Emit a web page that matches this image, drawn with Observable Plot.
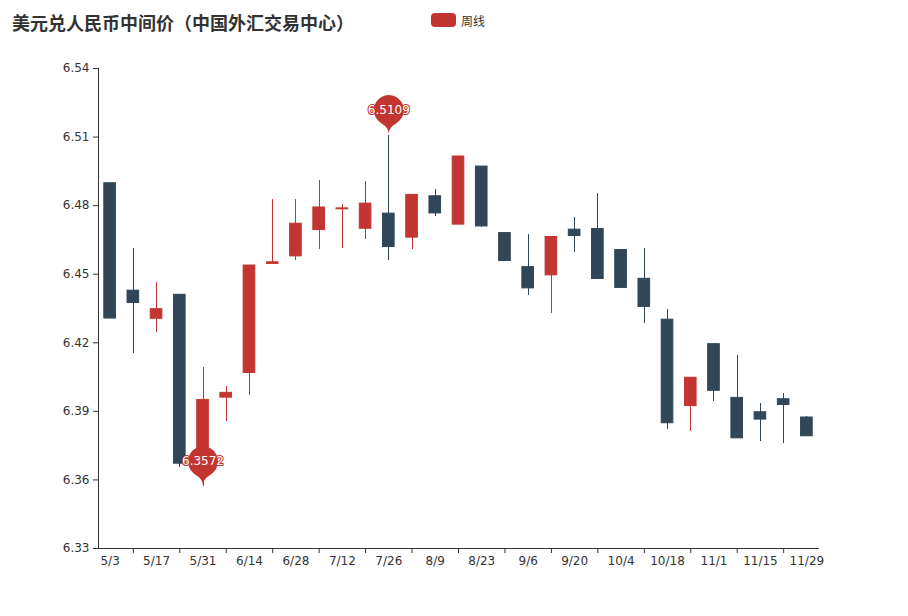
<!DOCTYPE html>
<html>
<head>
<meta charset="utf-8">
<script src="https://cdn.jsdelivr.net/npm/d3@7"></script>
<script src="https://cdn.jsdelivr.net/npm/@observablehq/plot@0.6"></script>
<style>
  body { margin: 0; background: #fff; }
  #wrap { position: relative; width: 908px; height: 616px; overflow: hidden; }
  #title { position: absolute; left: 12px; top: 9px; font: bold 18px "Noto Sans CJK SC", sans-serif; color: #333; white-space: nowrap; }
  #legend { position: absolute; left: 431px; top: 12px; font: 12px "Noto Sans CJK SC", sans-serif; color: #333; display: flex; align-items: center; height: 16px; }
  #legend .sw { display: inline-block; width: 25px; height: 14px; border-radius: 4px; background: #c23531; margin-right: 5px; }
  #chart { position: absolute; left: 0; top: 0; }
</style>
</head>
<body>
<div id="wrap">
  <div id="chart"></div>
  <div id="title">美元兑人民币中间价（中国外汇交易中心）</div>
  <div id="legend"><span class="sw"></span>周线</div>
</div>
<script>
const dates = ["5/3","5/10","5/17","5/24","5/31","6/7","6/14","6/21","6/28","7/5","7/12","7/19","7/26","8/2","8/9","8/16","8/23","8/30","9/6","9/13","9/20","9/27","10/4","10/11","10/18","10/25","11/1","11/8","11/15","11/22","11/29"];
const openV  = [6.4898,6.4428,6.4305,6.4410,6.3668,6.3960,6.4068,6.4545,6.4578,6.4693,6.4784,6.4699,6.4765,6.4660,6.4841,6.4717,6.4971,6.4680,6.4531,6.4495,6.4695,6.4698,6.4606,6.4480,6.4301,6.3923,6.4194,6.3959,6.3896,6.3953,6.3873];
const closeV = [6.4306,6.4374,6.4347,6.3671,6.3950,6.3981,6.4538,6.4552,6.4721,6.4792,6.4788,6.4809,6.4619,6.4847,6.4766,6.5015,6.4709,6.4558,6.4438,6.4663,6.4667,6.4479,6.4440,6.4357,6.3848,6.4047,6.3990,6.3782,6.3864,6.3928,6.3791];
const highV  = [6.4898,6.4613,6.4463,6.4410,6.4090,6.4008,6.4538,6.4825,6.4826,6.4909,6.4806,6.4905,6.5109,6.4847,6.4870,6.5015,6.4971,6.4683,6.4673,6.4663,6.4749,6.4854,6.4606,6.4612,6.4344,6.4047,6.4194,6.4144,6.3934,6.3980,6.3877];
const lowV   = [6.4306,6.4153,6.4245,6.3654,6.3572,6.3855,6.3969,6.4545,6.4562,6.4607,6.4613,6.4650,6.4560,6.4608,6.4753,6.4717,6.4705,6.4558,6.4407,6.4330,6.4594,6.4479,6.4440,6.4284,6.3820,6.3810,6.3943,6.3782,6.3769,6.3759,6.3791];
const yTicks = [6.33, 6.36, 6.39, 6.42, 6.45, 6.48, 6.51, 6.54];
const labelDates = dates.filter((d, i) => i % 2 === 0);
const tickDates = dates.filter((d, i) => i % 2 === 1);

const RED = "#c23531", DARK = "#314656";
const data = dates.map((d, i) => ({date: d, open: openV[i], close: closeV[i], high: highV[i], low: lowV[i]}));
const up = data.filter(d => d.close >= d.open);
const down = data.filter(d => d.close < d.open);
const maxP = d3.greatest(data, d => d.high);
const minP = d3.least(data, d => d.low);
const markers = [{date: maxP.date, value: maxP.high}, {date: minP.date, value: minP.low}];

// ECharts-like pin, tip at (0,0)
const pin = {
  draw(ctx) {
    const r = 15, h = 47;
    const dy = r * r / (h - r);
    const cy = -h + r + dy;
    const a = Math.asin(dy / r);
    const dx = Math.cos(a) * r;
    const tx = Math.sin(a), ty = Math.cos(a);
    const c1 = r * 0.6, c2 = r * 0.7;
    ctx.moveTo(-dx, cy + dy);
    ctx.arc(0, cy, r, Math.PI - a, Math.PI * 2 + a);
    ctx.bezierCurveTo(dx - tx * c1, cy + dy + ty * c1, 0, -c2, 0, 0);
    ctx.bezierCurveTo(0, -c2, -dx + tx * c1, cy + dy + ty * c1, -dx, cy + dy);
    ctx.closePath();
  }
};

const inset = 5.8;
const chart = Plot.plot({
  width: 908,
  height: 616,
  marginLeft: 98,
  marginRight: 90,
  marginTop: 68,
  marginBottom: 68,
  style: {fontFamily: "DejaVu Sans, sans-serif", fontSize: "12px", color: "#333", background: "transparent"},
  x: {type: "band", domain: dates, padding: 0, round: false, axis: null},
  y: {domain: [6.33, 6.54], axis: null},
  marks: [
    Plot.ruleX(down, {x: "date", y1: "low", y2: "high", stroke: DARK, strokeWidth: 1, shapeRendering: "crispEdges"}),
    Plot.ruleX(up, {x: "date", y1: "low", y2: "high", stroke: RED, strokeWidth: 1, shapeRendering: "crispEdges"}),
    Plot.barY(down, {x: "date", y1: "open", y2: "close", fill: DARK, stroke: DARK, strokeWidth: 1, insetLeft: inset, insetRight: inset}),
    Plot.barY(up, {x: "date", y1: "open", y2: "close", fill: RED, stroke: RED, strokeWidth: 1, insetLeft: inset, insetRight: inset}),
    Plot.frame({anchor: "left", stroke: "#333"}),
    Plot.frame({anchor: "bottom", stroke: "#333"}),
    Plot.axisY(yTicks, {tickSize: 5, tickPadding: 4, tickFormat: d3.format(".2f"), stroke: "#333", fill: "#333", label: null}),
    Plot.axisX(labelDates, {tickSize: 0, tickPadding: 8, fill: "#333", label: null}),
    Plot.axisX(tickDates, {tickSize: 5, tickFormat: () => "", stroke: "#333", label: null}),
    Plot.dot(markers, {x: "date", y: "value", symbol: pin, r: 5, fill: RED, stroke: "none"}),
    Plot.text(markers, {x: "date", y: "value", dy: -25, text: d => d.value.toFixed(4), fill: "white", stroke: RED, strokeWidth: 2, fontSize: 12})
  ]
});
document.getElementById("chart").appendChild(chart);
</script>
</body>
</html>
